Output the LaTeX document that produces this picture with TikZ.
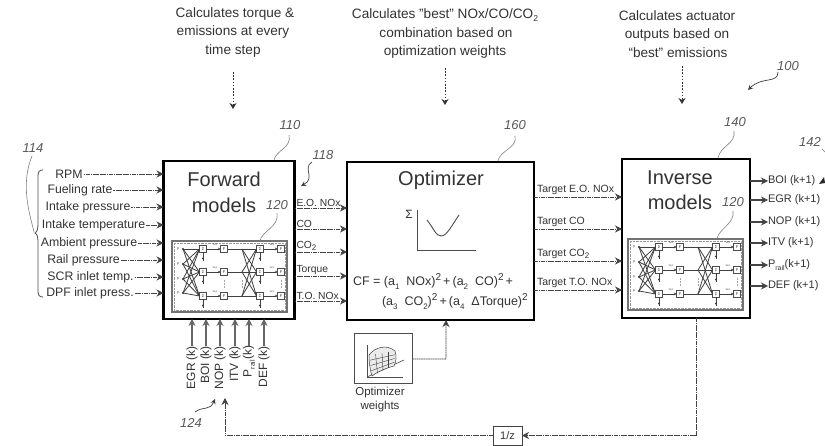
\documentclass[tikz,border=0pt]{standalone}
\usepackage{fontspec}
\setmainfont{Liberation Sans}
\usetikzlibrary{arrows.meta,calc}
\definecolor{ink}{HTML}{333333}
\definecolor{wire}{HTML}{444444}
\newcommand\fs[1]{\fontsize{#1}{#1}\selectfont}
\newcommand\dn[2][8]{\raisebox{-.28em}{\fs{#1}#2}}
\newcommand\up[2][10]{\raisebox{.42em}{\fs{#1}#2}}
\tikzset{
  x=1pt,y=-1pt,
  every node/.style={inner sep=0pt,outer sep=0pt,text=ink},
  bigbox/.style={draw=black,line width=2.4pt,fill=white},
  inl/.style={font=\fs{12.3},anchor=center},
  sig/.style={->,>={Stealth[length=7pt,width=7pt]},draw=wire,line width=.85pt,dash pattern=on 1.8pt off .5pt},
  sols/.style={->,>={Stealth[length=7pt,width=7pt]},draw=wire,line width=1.1pt},
  dotarrow/.style={->,>={Stealth[length=6pt,width=7pt]},draw=black!80,line width=.9pt,dash pattern=on 1.6pt off 1.6pt},
  toplab/.style={font=\fs{13.6},align=center,anchor=center},
  refnum/.style={font=\itshape\fs{13},text=black!65},
  leader/.style={draw=black!50,line width=.6pt},
  title/.style={font=\fs{20},anchor=center},
  outl/.style={font=\fs{10.3},anchor=south west},
  tgt/.style={font=\fs{10.5},anchor=south west},
  actl/.style={font=\fs{11},anchor=west},
  bott/.style={font=\fs{12},rotate=90,anchor=east},
  mini/.style={draw=black!70,line width=.5pt,fill=white,minimum width=7pt,minimum height=7pt},
  nnw/.style={draw=black!75,line width=.6pt},
}
\newcommand\nnet[2]{%
\begin{scope}[shift={(#1,#2)}]
  \draw[draw=black!55,line width=1.1pt,fill=white] (0,0) rectangle (115,71);
  \draw[draw=black!40,line width=.4pt,densely dotted] (2,2) rectangle (113,69);
  \foreach \r/\y in {a/8,b/31,c/55}{
    \node[mini] (s\r) at (31,\y) {\fs{4}Σ};
    \node[mini] (f\r) at (52,\y) {\fs{4}F};
    \node[mini] (t\r) at (88,\y) {\fs{4}Σ};
    \node[mini] (g\r) at (109,\y) {\fs{4}F};
    \coordinate (h\r) at (70,\y);
    \draw[nnw,->,>={Stealth[length=2.5pt,width=2.5pt]}] (s\r) -- (f\r);
    \draw[nnw] (f\r) -- (h\r);
    \draw[nnw,->,>={Stealth[length=2.5pt,width=2.5pt]}] (t\r) -- (g\r);
    \draw[nnw] (s\r.south) -- ++(0,9);
    \draw[nnw] (t\r.south) -- ++(0,9);
    \fill[black!75] ($(s\r.south)+(0,6)$) circle (1.1pt);
    \fill[black!75] ($(t\r.south)+(0,6)$) circle (1.1pt);
    \node[font=\fs{3},text=black!70] at ($(s\r.north)+(12,-1)$) {w,x};
    \node[font=\fs{3},text=black!70] at ($(t\r.north)+(12,-1)$) {w,x};
  }
  \foreach \i/\y in {1/8,2/23,3/38,4/52}{
    \coordinate (i\i) at (11,\y);
    \fill[black!80] (i\i) circle (1.2pt);
    \node[font=\fs{3.5},text=black!70] at (6,\y) {p};
    \foreach \r in {a,b,c}{\draw[nnw,line width=.8pt] (i\i) -- (s\r.west);}
  }
  \foreach \p in {a,b,c}{\foreach \r in {a,b,c}{\draw[nnw,line width=.8pt] (h\p) -- (t\r.west);}}
  \foreach \xx in {52,70,109}{\draw[black!35,line width=.5pt,densely dotted] (\xx,39) -- (\xx,47);}
\end{scope}}
\begin{document}
\begin{tikzpicture}
\useasboundingbox (0,0) rectangle (825,446);
\fill[white] (0,0) rectangle (825,446);

% main boxes
\node[bigbox,minimum width=131pt,minimum height=158pt] (fwd) at (229,240) {};
\node[bigbox,minimum width=187pt,minimum height=158pt] (opt) at (440.5,241) {};
\node[bigbox,minimum width=128pt,minimum height=159pt] (inv) at (686,238.5) {};

\node[title] (tf1) at (224,179) {Forward};
\node[title] (tf2) at (224,205) {models};
\node[title] (to) at (441,180) {Optimizer};
\node[title] (ti1) at (680,178) {Inverse};
\node[title] (ti2) at (680,202) {models};

\nnet{172}{241}
\coordinate (nf) at (260,241);
\nnet{628}{239}
\coordinate (ni) at (717,239);

% top notes
\node[toplab] (n1a) at (235,14) {Calculates torque \&};
\node[toplab] (n1b) at (233,32) {emissions at every};
\node[toplab] (n1c) at (233,51) {time step};
\node[toplab] (n2a) at (445,15) {Calculates "best" NOx/CO/CO\dn[8.5]{2}};
\node[toplab] (n2b) at (446,33) {combination based on};
\node[toplab] (n2c) at (445,52) {optimization weights};
\node[toplab] (n3a) at (677,16) {Calculates actuator};
\node[toplab] (n3b) at (677,35) {outputs based on};
\node[toplab] (n3c) at (678,53) {“best” emissions};
\coordinate (d1a) at (233,72); \coordinate (d1b) at (233,109);
\coordinate (d2a) at (445,68); \coordinate (d2b) at (445,105);
\coordinate (d3a) at (682,66); \coordinate (d3b) at (682,104);
\draw[dotarrow] (d1a) -- (d1b);
\draw[dotarrow] (d2a) -- (d2b);
\draw[dotarrow] (d3a) -- (d3b);

% inputs
\foreach \nm/\cx/\y/\tx in {
 ia/69/174/RPM,
 ib/80/190/Fueling rate,
 ic/88/207/Intake pressure,
 id/93.5/225/Intake temperature,
 ie/89/243/Ambient pressure,
 if/83.5/260/Rail pressure,
 ig/90.5/277/SCR inlet temp.,
 ih/90/293/DPF inlet press.}{
  \node[inl] (\nm) at (\cx,\y) {\tx};
  \draw[sig] ($(\nm.east)+(1,0)$) -- (\nm.east -| fwd.west);
}
\draw[draw=black!70,line width=.8pt] (43,170) .. controls (39,170) and (38,172) .. (38,176)
  -- (38,224) .. controls (38,229) and (37,232) .. (35,233)
  .. controls (37,234) and (38,237) .. (38,242)
  -- (38,291) .. controls (38,295) and (39,297) .. (43,297);

% forward outputs
\foreach \nm/\y/\tx in {
 oa/208/E.O. NOx,
 ob/229/CO,
 oc/252/CO\dn{2},
 od/276/Torque,
 oe/301/T.O. NOx}{
  \coordinate (\nm s) at (fwd.east |- 0,\y);
  \coordinate (\nm e) at (opt.west |- 0,\y);
  \draw[sig] (\nm s) -- (\nm e);
  \node[outl] (\nm) at ($(\nm s)+(2,-1)$) {\tx};
}

% optimizer outputs
\foreach \nm/\y/\tx in {
 pa/197/Target E.O. NOx,
 pb/229/Target CO,
 pc/261/Target CO\dn{2},
 pd/290/Target T.O. NOx}{
  \coordinate (\nm s) at (opt.east |- 0,\y);
  \coordinate (\nm e) at (inv.west |- 0,\y);
  \draw[sig] (\nm s) -- (\nm e);
  \node[tgt] (\nm) at ($(\nm s)+(3,-2)$) {\tx};
}

% optimizer contents
\node[font=\fs{12}] (sg) at (409,214) {Σ};
\coordinate (ax1) at (417,210); \coordinate (ax2) at (417,250); \coordinate (ax3) at (476,250);
\draw[draw=black!70,line width=.9pt] (ax1) -- (ax2) -- (ax3);
\draw[draw=black!70,line width=.9pt] (427,220) .. controls (434,229) and (436,236) .. (441,236)
  .. controls (447,236) and (452,225) .. (459,215);
\node[font=\fs{12.5},anchor=base west] (cf1) at (353,286) {CF = (a\dn{1}\ \ NOx)\up{2}\,+\,(a\dn{2}\ \ CO)\up{2}\,+};
\node[font=\fs{12.5},anchor=base west] (cf2) at (382,306) {(a\dn{3}\ \ CO\dn{2})\up{2}\,+\,(a\dn{4}\ \ ΔTorque)\up{2}};

% actuator outputs
\foreach \nm/\y/\tx in {
 qa/181/BOI (k+1),
 qb/200/EGR (k+1),
 qc/222/NOP (k+1),
 qd/243/ITV (k+1),
 qe/265/P\dn[7]{rail}(k+1),
 qf/286/DEF (k+1)}{
  \node[actl] (\nm) at (768,\y) {\tx};
  \draw[sols] (inv.east |- \nm.west) -- (\nm.west);
}

% bottom inputs
\foreach \nm/\xx/\tx in {
 ba/192/EGR (k),
 bb/206/BOI (k),
 bc/220/NOP (k),
 bd/235/ITV (k),
 be/249/P\dn[7]{rail}(k),
 bf/264/DEF (k)}{
  \node[bott] (\nm) at (\xx,346) {\tx};
  \draw[sols,draw=black!60] (\nm.east) -- (\nm.east |- fwd.south);
}

% optimizer weights
\node[draw=black!70,line width=1pt,fill=white,minimum width=58pt,minimum height=50pt] (wb) at (383,359) {};
\draw[black!70,line width=.7pt] (367,345) -- (367,377) -- (403,377);
\draw[black!70,line width=.6pt] (367,377) -- (404,360);
\draw[black!75,line width=.5pt,fill=black!8] (369,355) .. controls (375,347) and (387,344) .. (395,351)
  .. controls (397,356) and (396,362) .. (394,366)
  .. controls (386,368) and (377,372) .. (372,376)
  .. controls (370,370) and (369,362) .. (369,355) -- cycle;
\foreach \t in {0.25,0.5,0.75}{
  \draw[black!75,line width=.4pt] ($(369,355)!\t!(395,351)$) -- ($(372,376)!\t!(394,366)$);
  \draw[black!75,line width=.4pt] ($(369,355)!\t!(372,376)$) -- ($(395,351)!\t!(394,366)$);
}
\node[font=\fs{11.5}] (ow1) at (380,393) {Optimizer};
\node[font=\fs{11.5}] (ow2) at (380,407) {weights};
\coordinate (wc) at (446,361);
\draw[sig,rounded corners=.5pt] (wb.east) -- (wb.east -| wc) -- (wc |- opt.south);

% feedback
\node[draw=black!75,line width=1pt,fill=white,font=\fs{11},minimum width=29pt,minimum height=19pt] (dz) at (507.5,435.5) {1/z};
\coordinate (fbc) at (696,435.5);
\coordinate (fbt) at (225,398);
\draw[sig] (inv.south -| fbc) -- (fbc) -- (dz.east);
\draw[sig] (dz.west) -- (dz.west -| fbt) -- (fbt);

% reference numbers and leaders
\node[refnum] (r114) at (33,148) {114};
\draw[leader] (32,156) .. controls (20,185) and (30,215) .. (34,232);
\node[refnum] (r110) at (290,125) {110};
\draw[leader] (289,135) .. controls (292,148) and (276,150) .. (274,160);
\node[refnum] (r160) at (515,125) {160};
\draw[leader] (515,136) .. controls (518,148) and (500,150) .. (498,161);
\node[refnum] (r140) at (735,122) {140};
\draw[leader] (734,131) .. controls (736,144) and (720,146) .. (718,158);
\node[refnum] (r100) at (788,66) {100};
\draw[leader,draw=black!75,line width=.7pt,->,>={Stealth[length=5pt,width=5pt]}] (778,72) .. controls (778,84) and (762,76) .. (748,90);
\node[refnum] (r118) at (323,155) {118};
\draw[leader,draw=black!75,line width=.7pt,->,>={Stealth[length=5pt,width=5pt]}] (312,162) .. controls (302,168) and (316,178) .. (301,186);
\node[refnum] (r120a) at (277,205) {120};
\draw[leader] (277,213) .. controls (279,228) and (262,230) .. (nf);
\node[refnum] (r120b) at (733,202) {120};
\draw[leader] (733,211) .. controls (735,224) and (719,228) .. (ni);
\node[refnum] (r124) at (191,423) {124};
\draw[leader,draw=black!75,line width=.7pt,->,>={Stealth[length=5pt,width=5pt]}] (195,412) .. controls (203,406) and (210,411) .. (215,399);
\node[refnum] (r142) at (810,142) {142};
\draw[leader] (822,149) -- (825,152);
\fill[black!85] (824,177) -- (819,184) -- (825,183) -- cycle;
\end{tikzpicture}
\end{document}
